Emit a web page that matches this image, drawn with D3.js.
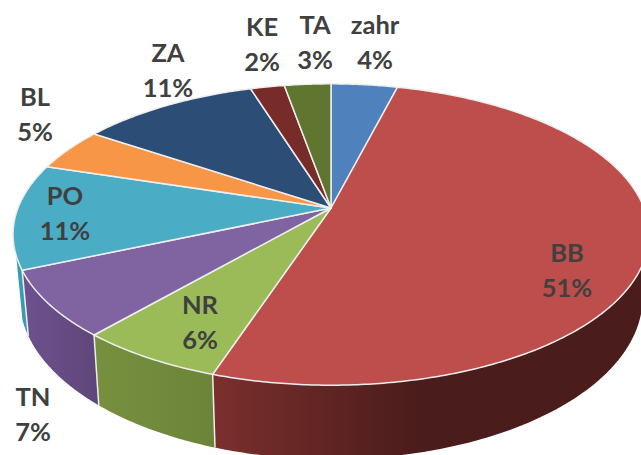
<!DOCTYPE html>
<html>
<head>
<meta charset="utf-8">
<script src="https://cdn.jsdelivr.net/npm/d3@7"></script>
<style>
  html, body { margin: 0; padding: 0; background: #fff; overflow: hidden; }
</style>
</head>
<body>
<div id="chart"></div>
<script>
// Chart data
var categories = ["zahr", "BB", "NR", "TN", "PO", "BL", "ZA", "KE", "TA"];
var shares = [4, 51.1, 6.3, 7.1, 11.3, 4.6, 10.75, 2.05, 2.8];

// Colours
var topColors = ["#4f81bd", "#bd4e4b", "#9bbb59", "#8064a2", "#4bacc6", "#f79646", "#2c4d75", "#772c2a", "#5f7530"];
var wallColors = [
  ["#3b6290", "#3b6290"], ["#7a2f2d", "#4a1c1b"], ["#76903f", "#6c8439"], ["#6d5190", "#5f4678"],
  ["#3a9ab2", "#3a9ab2"], ["#b96f33", "#b96f33"], ["#203a58", "#203a58"], ["#5a211f", "#5a211f"], ["#475824", "#475824"]
];

// Label centres, in the order of categories
var labelX = [375, 567, 200, 33, 65, 35, 168, 262, 315];
var labelY = [26, 254, 306, 398, 197, 98, 54, 28, 26];
var lineGap = 35;

// Chart parameters
var svgWidth = 641;
var svgHeight = 455;

// Tilted disc: a circle seen in perspective, apex at (cx, cy)
var cx = 331, cy = 208;
var radiusX = 313, radiusY = 146, tilt = 0.176;
var depth = 61, bottomScale = 0.98;
var wallStart = 95 * Math.PI / 180;
var wallEnd = 252 * Math.PI / 180;

var svg = d3.select("#chart")
  .append("svg")
  .attr("width", svgWidth)
  .attr("height", svgHeight)
  .style("display", "block");

function topPoint(a) {
  var u = Math.sin(a), v = -Math.cos(a), w = 1 - tilt * v;
  return [cx + radiusX * u / w, cy + radiusY * v / w];
}

function bottomPoint(a) {
  var p = topPoint(a), w = 1 + tilt * Math.cos(a);
  return [cx + (p[0] - cx) * bottomScale, p[1] + depth / w];
}

function arcAngles(a0, a1) {
  var n = Math.max(2, Math.ceil((a1 - a0) / 0.01));
  return d3.range(n + 1).map(i => a0 + (a1 - a0) * i / n);
}

var line = d3.line();
var pie = d3.pie().sort(null).value(d => d)(shares);

var defs = svg.append("defs");

// Walls
var walls = pie.filter(d => d.endAngle > wallStart && d.startAngle < wallEnd);

walls.forEach(function(d) {
  var a0 = Math.max(d.startAngle, wallStart);
  var a1 = Math.min(d.endAngle, wallEnd);
  var angles = arcAngles(a0, a1);
  var pts = angles.map(topPoint).concat(angles.slice().reverse().map(bottomPoint));

  var xs = pts.map(p => p[0]);
  var grad = defs.append("linearGradient")
    .attr("id", "wall" + d.index)
    .attr("gradientUnits", "userSpaceOnUse")
    .attr("x1", d.index === 1 ? 215 : d3.min(xs))
    .attr("x2", d.index === 1 ? 420 : d3.max(xs))
    .attr("y1", 0)
    .attr("y2", 0);
  // the big wall runs left to right, the others are drawn the same way
  grad.append("stop").attr("offset", 0).attr("stop-color", wallColors[d.index][0]);
  grad.append("stop").attr("offset", 1).attr("stop-color", wallColors[d.index][1]);

  svg.append("path")
    .attr("d", line(pts) + "Z")
    .attr("fill", "url(#wall" + d.index + ")");

  // side edges only, the outer rim of the wall has no line
  svg.append("path")
    .attr("d", line([topPoint(a0), bottomPoint(a0)]))
    .attr("stroke", a0 === wallStart ? "none" : "#eeeeee")
    .attr("stroke-width", 1.5);
});

// Top of the disc
svg.selectAll(".slice")
  .data(pie)
  .enter()
  .append("path")
  .attr("class", "slice")
  .attr("d", d => line([[cx, cy]].concat(arcAngles(d.startAngle, d.endAngle).map(topPoint))) + "Z")
  .attr("fill", d => topColors[d.index])
  .attr("stroke", "#eeeeee")
  .attr("stroke-width", 1.5)
  .attr("stroke-linejoin", "round");

// Labels
var labels = svg.selectAll(".label")
  .data(pie)
  .enter()
  .append("text")
  .attr("class", "label")
  .attr("text-anchor", "middle")
  .attr("font-family", "Lato, sans-serif")
  .attr("font-size", 25.5)
  .attr("font-weight", 700)
  .attr("fill", "#404040");

labels.append("tspan")
  .attr("x", d => labelX[d.index])
  .attr("y", d => labelY[d.index] + 8)
  .text(d => categories[d.index]);

labels.append("tspan")
  .attr("x", d => labelX[d.index])
  .attr("y", d => labelY[d.index] + 8 + lineGap)
  .text(d => Math.round(d.value) + "%");
</script>
</body>
</html>
